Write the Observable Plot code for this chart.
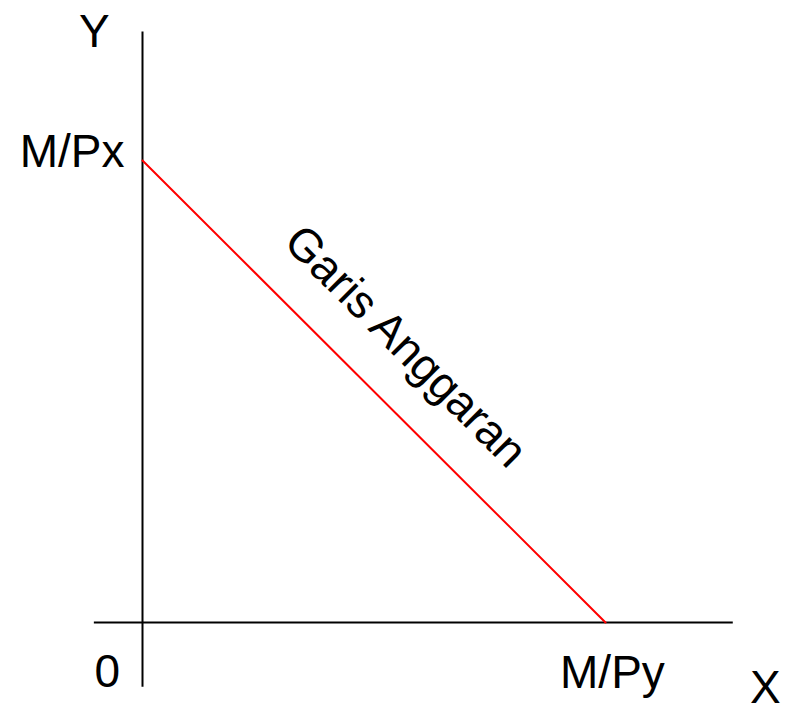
<!DOCTYPE html>
<html>
<head>
<meta charset="utf-8">
<script src="https://cdn.jsdelivr.net/npm/d3@7"></script>
<script src="https://cdn.jsdelivr.net/npm/@observablehq/plot@0.6"></script>
<style>
  html, body { margin: 0; padding: 0; background: #fff; }
  #chart svg { display: block; }
</style>
</head>
<body>
<div id="chart"></div>
<script>
// Budget line endpoints (data units: M/Py = 10 on X, M/Px = 10 on Y)
const budgetX = [0, 10];
const budgetY = [10, 0];

// Axis extents
const axisXExtent = [-1.04, 12.76];
const axisYExtent = [-1.4, 12.78];

// Labels
const labelText = ["Y", "M/Px", "0", "M/Py", "X"];
const labelX = [-1.04, -0.39, -0.76, 10.15, 13.45];
const labelY = [12.45, 9.85, -1.39, -1.41, -1.75];
const labelAnchor = ["middle", "end", "middle", "middle", "middle"];

const lineLabel = "Garis Anggaran";
const lineLabelPos = [5.68, 5.97];

const budget = budgetX.map((x, i) => ({x, y: budgetY[i]}));
const labels = labelText.map((t, i) => ({t, x: labelX[i], y: labelY[i], a: labelAnchor[i]}));

const font = "'Liberation Sans', Arial, sans-serif";

const chart = Plot.plot({
  width: 790,
  height: 704,
  margin: 0,
  x: {domain: [0, 10], range: [142, 605], axis: null},
  y: {domain: [0, 10], range: [622, 160], axis: null},
  style: {fontFamily: font, background: "#fff", color: "#000"},
  marks: [
    Plot.ruleX([0], {y1: axisYExtent[0], y2: axisYExtent[1], stroke: "#000", strokeWidth: 2}),
    Plot.ruleY([0], {x1: axisXExtent[0], x2: axisXExtent[1], stroke: "#000", strokeWidth: 2}),
    Plot.line(budget, {x: "x", y: "y", stroke: "#ff0000", strokeWidth: 2}),
    Plot.text(labels.filter(d => d.a === "middle"), {x: "x", y: "y", text: "t", textAnchor: "middle", lineAnchor: "bottom", fontSize: 46, fill: "#000"}),
    Plot.text(labels.filter(d => d.a === "end"), {x: "x", y: "y", text: "t", textAnchor: "end", lineAnchor: "bottom", fontSize: 46, fill: "#000"}),
    Plot.text([lineLabel], {x: () => lineLabelPos[0], y: () => lineLabelPos[1], text: d => d, rotate: 45, textAnchor: "middle", lineAnchor: "middle", fontSize: 46, fill: "#000"})
  ]
});
document.getElementById("chart").appendChild(chart);
</script>
</body>
</html>
